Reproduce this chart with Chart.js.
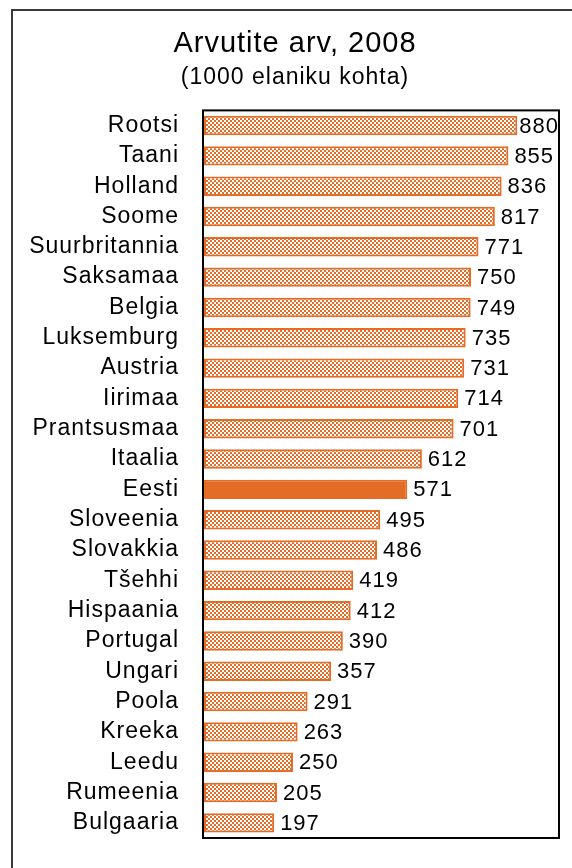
<html>
<head>
<meta charset="utf-8">
<script src="https://cdn.jsdelivr.net/npm/chart.js@4.4.0/dist/chart.umd.min.js"></script>
<style>
  body { margin: 0; background: white; overflow: hidden; }
  canvas { display: block; }
</style>
</head>
<body>
  <canvas id="computersChart" width="572" height="868"></canvas>

<script>
  // computers per 1000 inhabitants, 2008
  var countries = ["Rootsi", "Taani", "Holland", "Soome", "Suurbritannia", "Saksamaa", "Belgia",
    "Luksemburg", "Austria", "Iirimaa", "Prantsusmaa", "Itaalia", "Eesti", "Sloveenia", "Slovakkia",
    "Tšehhi", "Hispaania", "Portugal", "Ungari", "Poola", "Kreeka", "Leedu", "Rumeenia", "Bulgaaria"];
  var computers = [880, 855, 836, 817, 771, 750, 749, 735, 731, 714, 701, 612, 571, 495, 486,
    419, 412, 390, 357, 291, 263, 250, 205, 197];
  var highlighted = "Eesti";

  var titleText = "Arvutite arv, 2008";
  var subtitleText = "(1000 elaniku kohta)";

  var orange = "#E46C26";
  var fontFamily = "'Liberation Sans', Arial, sans-serif";

  // small checker tile for the bar fill
  function checkerPattern()
  {
    var tile = document.createElement("canvas");
    tile.width = 4;
    tile.height = 4;
    var t = tile.getContext("2d");
    t.fillStyle = orange;
    t.fillRect(0, 0, 4, 4);
    t.fillStyle = "white";
    t.fillRect(0, 0, 2, 2);
    t.fillRect(2, 2, 2, 2);
    return t.createPattern(tile, "repeat");
  }

  var ctx = document.getElementById("computersChart").getContext("2d");
  var pattern = checkerPattern();

  var fills = countries.map(function (c) {
    return c == highlighted ? orange : pattern;
  });

  // text looks a bit stretched, so widen it a little
  var spacingPlugin = {
    id: "spacing",
    beforeLayout: function (chart) { chart.ctx.letterSpacing = "1px"; },
    beforeDraw: function (chart) { chart.ctx.letterSpacing = "1px"; }
  };

  // outer frame and the box round the plot area
  var framePlugin = {
    id: "frames",
    beforeDraw: function (chart) {
      var c = chart.ctx;
      c.save();
      c.fillStyle = "white";
      c.fillRect(0, 0, chart.width, chart.height);
      c.strokeStyle = "#3a3a3a";
      c.lineWidth = 2;
      c.strokeRect(12, 10, chart.width + 20, chart.height + 20);
      c.restore();
    },
    afterDatasetsDraw: function (chart) {
      var a = chart.chartArea;
      var c = chart.ctx;
      c.save();
      c.strokeStyle = "black";
      c.lineWidth = 2;
      c.strokeRect(a.left - 1, a.top, a.right - a.left, a.bottom - a.top);
      c.restore();
    }
  };

  // value labels just past the end of each bar, kept inside the box
  var valueLabels = {
    id: "valueLabels",
    afterDatasetsDraw: function (chart) {
      var c = chart.ctx;
      var a = chart.chartArea;
      var meta = chart.getDatasetMeta(0);
      c.save();
      c.letterSpacing = "1px";
      c.font = "22px " + fontFamily;
      c.fillStyle = "black";
      c.textAlign = "left";
      c.textBaseline = "middle";
      meta.data.forEach(function (bar, i) {
        var text = String(chart.data.datasets[0].data[i]);
        var w = c.measureText(text).width;
        var x = bar.x + 6;
        if (x + w > a.right - 1) x = a.right - 1 - w;
        c.fillText(text, x, bar.y + 1);
      });
      c.restore();
    }
  };

  var computersChart = new Chart(ctx, {
    type: "bar",
    data: {
      labels: countries,
      datasets: [
        {
          data: computers,
          backgroundColor: fills,
          borderColor: orange,
          borderWidth: 2,
          borderSkipped: false,
          barPercentage: 0.64,
          categoryPercentage: 1
        }
      ]
    },
    options: {
      indexAxis: "y",
      responsive: false,
      animation: false,
      devicePixelRatio: 1,
      layout: { padding: { top: 10, left: 30, right: 12, bottom: 30 } },
      plugins: {
        legend: { display: false },
        tooltip: { enabled: false },
        title: {
          display: true,
          text: titleText,
          color: "black",
          font: { family: fontFamily, size: 29, weight: "normal" },
          padding: { top: 17, bottom: 0 }
        },
        subtitle: {
          display: true,
          text: subtitleText,
          color: "black",
          font: { family: fontFamily, size: 23, weight: "normal" },
          padding: { top: 2, bottom: 19 }
        }
      },
      scales: {
        x: {
          display: false,
          min: 0,
          max: 1000
        },
        y: {
          grid: { display: false, drawTicks: false },
          border: { display: false },
          ticks: {
            autoSkip: false,
            color: "black",
            padding: 25,
            font: { family: fontFamily, size: 23 }
          },
          afterFit: function (scale) {
            // fixed label column; labels sit inside their bands so no extra room needed
            scale.width = 174;
            scale.paddingTop = 0;
            scale.paddingBottom = 0;
          }
        }
      }
    },
    plugins: [spacingPlugin, framePlugin, valueLabels]
  });
</script>
</body>
</html>
